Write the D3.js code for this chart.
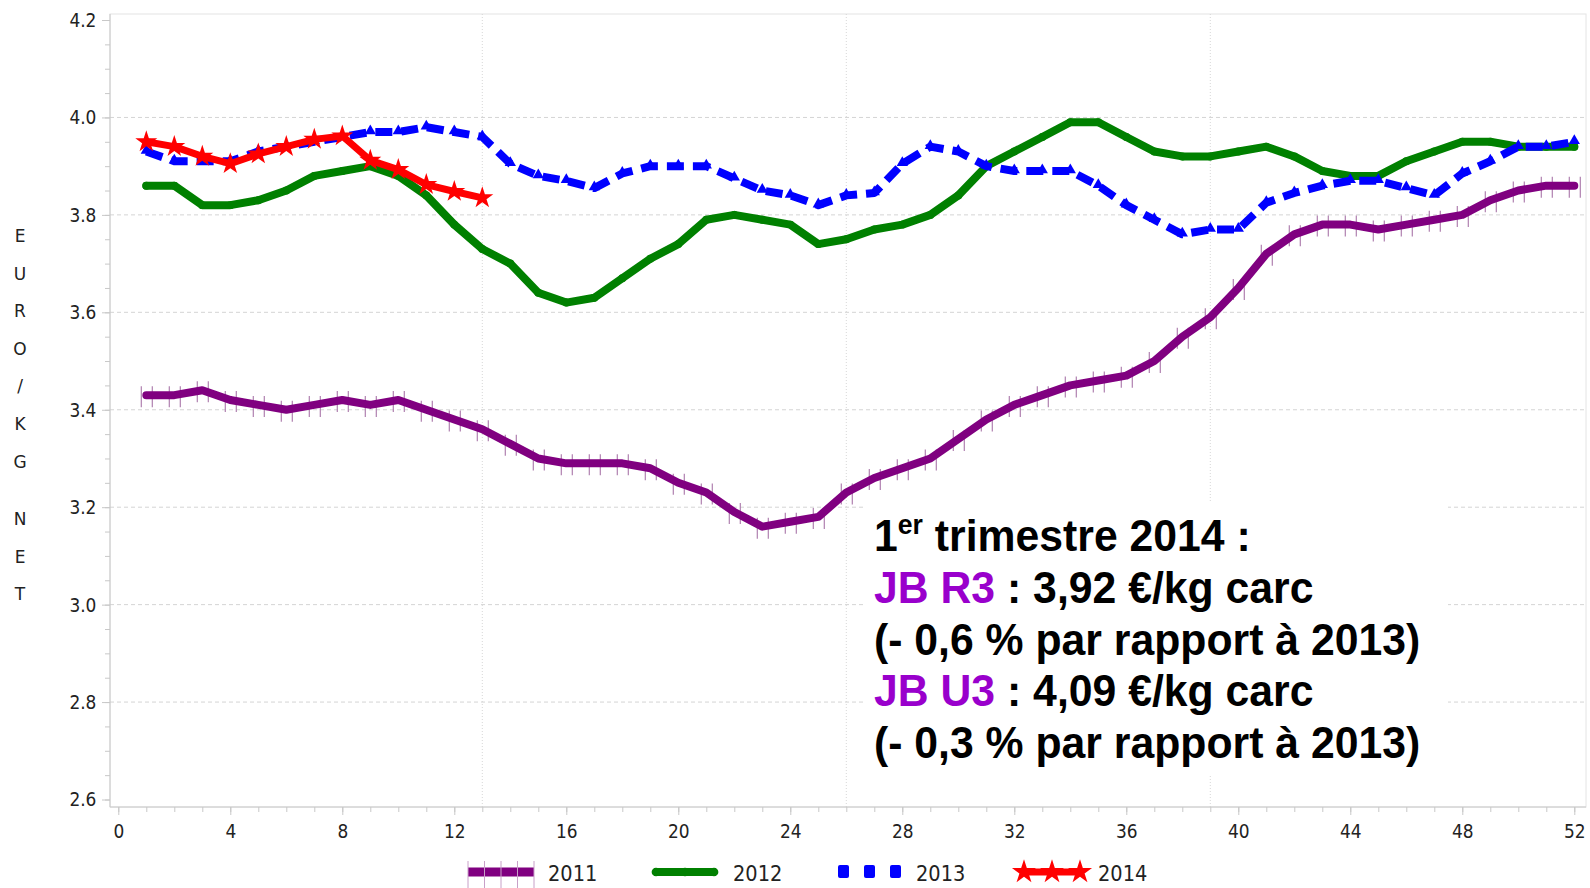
<!DOCTYPE html>
<html>
<head>
<meta charset="utf-8">
<script src="https://cdn.jsdelivr.net/npm/d3@7"></script>
<style>
  html, body { margin: 0; padding: 0; background: #fff; }
  svg { display: block; }
</style>
</head>
<body>
<svg id="chart" width="1590" height="888"></svg>
<script>
// ---------- DATA ----------
const weeks = d3.range(1, 53);
const weeks2014 = d3.range(1, 14);
const years = ["2011", "2012", "2013", "2014"];
const values2011 = [3.43,3.43,3.44,3.42,3.41,3.40,3.41,3.42,3.41,3.42,
                    3.40,3.38,3.36,3.33,3.30,3.29,3.29,3.29,3.28,3.25,
                    3.23,3.19,3.16,3.17,3.18,3.23,3.26,3.28,3.30,3.34,
                    3.38,3.41,3.43,3.45,3.46,3.47,3.50,3.55,3.59,3.65,
                    3.72,3.76,3.78,3.78,3.77,3.78,3.79,3.80,3.83,3.85,3.86,3.86];
const values2012 = [3.86,3.86,3.82,3.82,3.83,3.85,3.88,3.89,3.90,3.88,
                    3.84,3.78,3.73,3.70,3.64,3.62,3.63,3.67,3.71,3.74,
                    3.79,3.80,3.79,3.78,3.74,3.75,3.77,3.78,3.80,3.84,
                    3.90,3.93,3.96,3.99,3.99,3.96,3.93,3.92,3.92,3.93,
                    3.94,3.92,3.89,3.88,3.88,3.91,3.93,3.95,3.95,3.94,3.94,3.94];
const values2013 = [3.93,3.91,3.91,3.91,3.93,3.94,3.95,3.96,3.97,3.97,
                    3.98,3.97,3.96,3.905,3.88,3.87,3.855,3.885,3.90,3.90,
                    3.90,3.875,3.85,3.84,3.82,3.84,3.845,3.905,3.94,3.93,
                    3.90,3.89,3.89,3.89,3.86,3.82,3.79,3.76,3.77,3.77,
                    3.825,3.845,3.86,3.87,3.87,3.855,3.84,3.885,3.91,3.94,3.94,3.95];
const values2014 = [3.95,3.94,3.92,3.905,3.925,3.94,3.955,3.962,3.912,3.893,3.862,3.848,3.835];
const xTickValues = [0,4,8,12,16,20,24,28,32,36,40,44,48,52];
const yTickValues = [2.6,2.8,3.0,3.2,3.4,3.6,3.8,4.0,4.2];
const quarterWeeks = [13, 26, 39];
const yAxisLetters = ["E","U","R","O","/","K","G","N","E","T"];
const noteLines = [
  [{t:"1", c:"#000"}, {t:"er", c:"#000", sup:true}, {t:" trimestre 2014 :", c:"#000", down:true}],
  [{t:"JB R3", c:"#9900CC"}, {t:" : 3,92 €/kg carc", c:"#000"}],
  [{t:"(- 0,6 % par rapport à 2013)", c:"#000"}],
  [{t:"JB U3", c:"#9900CC"}, {t:" : 4,09 €/kg carc", c:"#000"}],
  [{t:"(- 0,3 % par rapport à 2013)", c:"#000"}]
];

// ---------- LAYOUT ----------
const svg = d3.select("#chart");
const frame = {left: 110, right: 1586, top: 14, bottom: 807};
const x = d3.scaleLinear().domain([0, 52]).range([118.3, 1574.3]);
const y = d3.scaleLinear().domain([2.6, 4.2]).range([799.5, 20]);
const gridColor = "#d4d4d4";
const axisColor = "#c8c8c8";
const tickFont = "'DejaVu Sans', sans-serif";

// frame
svg.append("rect").attr("x", frame.left).attr("y", frame.top)
  .attr("width", frame.right - frame.left).attr("height", frame.bottom - frame.top)
  .attr("fill", "none").attr("stroke", "#e4e4e4").attr("stroke-width", 1);

// horizontal grid
svg.append("g").selectAll("line").data(yTickValues.filter(v => v > 2.7 && v < 4.1)).join("line")
  .attr("x1", frame.left).attr("x2", frame.right)
  .attr("y1", d => y(d)).attr("y2", d => y(d))
  .attr("stroke", gridColor).attr("stroke-width", 1).attr("stroke-dasharray", "4,3");

// vertical quarter lines
svg.append("g").selectAll("line").data(quarterWeeks).join("line")
  .attr("x1", d => x(d)).attr("x2", d => x(d))
  .attr("y1", frame.top).attr("y2", frame.bottom)
  .attr("stroke", "#d8d8d8").attr("stroke-width", 1).attr("stroke-dasharray", "1,2");

// axes
const yMinor = d3.range(2.6, 4.2001, 0.05);
const gyMinor = svg.append("g").attr("transform", `translate(${frame.left},0)`)
  .call(d3.axisLeft(y).tickValues(yMinor).tickSize(5).tickFormat(""));
gyMinor.select(".domain").remove();
gyMinor.selectAll("line").attr("stroke", axisColor);

const gy = svg.append("g").attr("transform", `translate(${frame.left},0)`)
  .call(d3.axisLeft(y).tickValues(yTickValues).tickSize(8).tickPadding(8).tickFormat(d3.format(".1f")));
gy.select(".domain").attr("stroke", axisColor).attr("d", `M0,${frame.top}V${frame.bottom}`);
gy.selectAll("line").attr("stroke", axisColor);
gy.selectAll("text").attr("font-family", tickFont).attr("font-size", 20).attr("fill", "#222")
  .attr("transform", "scale(0.85,1)");

const gxMinor = svg.append("g").attr("transform", `translate(0,${frame.bottom})`)
  .call(d3.axisBottom(x).tickValues(d3.range(0, 53)).tickSize(5).tickFormat(""));
gxMinor.select(".domain").remove();
gxMinor.selectAll("line").attr("stroke", axisColor);

const gx = svg.append("g").attr("transform", `translate(0,${frame.bottom})`)
  .call(d3.axisBottom(x).tickValues(xTickValues).tickSize(8).tickPadding(9).tickFormat(d3.format("d")));
gx.select(".domain").attr("stroke", axisColor).attr("d", `M${frame.left},0H${frame.right}`);
gx.selectAll("line").attr("stroke", axisColor);
gx.selectAll("text").attr("font-family", tickFont).attr("font-size", 20).attr("fill", "#222")
  .attr("transform", "scale(0.85,1)");

// y axis title: stacked letters
const letterY = [242, 280, 317, 355, 392, 430, 468, 525, 563, 600];
svg.append("g").selectAll("text").data(yAxisLetters).join("text")
  .attr("x", 20).attr("y", (d, i) => letterY[i])
  .attr("text-anchor", "middle")
  .attr("font-family", tickFont).attr("font-size", 17).attr("fill", "#222")
  .text(d => d);

// note box background (drawn above grid, below lines)
svg.append("rect").attr("x", 866).attr("y", 502).attr("width", 582).attr("height", 272)
  .attr("fill", "#fff");

// ---------- SERIES ----------
const line = d3.line().x(d => x(d[0])).y(d => y(d[1]));
const s2011 = weeks.map((w, i) => [w, values2011[i]]);
const s2012 = weeks.map((w, i) => [w, values2012[i]]);
const s2013 = weeks.map((w, i) => [w, values2013[i]]);
const s2014 = weeks2014.map((w, i) => [w, values2014[i]]);

// 2011 purple
const g11 = svg.append("g");
g11.append("g").selectAll("path").data(s2011).join("path")
  .attr("d", d => `M${x(d[0]) - 5},${y(d[1]) - 9}v21M${x(d[0]) + 6},${y(d[1]) - 9}v21`)
  .attr("stroke", "#b080b0").attr("stroke-width", 1.2);
g11.append("path").datum(s2011).attr("d", line)
  .attr("fill", "none").attr("stroke", "#800080").attr("stroke-width", 8)
  .attr("stroke-linejoin", "round").attr("stroke-linecap", "round");

// 2012 green
const g12 = svg.append("g");
g12.append("path").datum(s2012).attr("d", line)
  .attr("fill", "none").attr("stroke", "#008000").attr("stroke-width", 8)
  .attr("stroke-linejoin", "round").attr("stroke-linecap", "round");
g12.selectAll("path.m").data(s2012).join("path").attr("class", "m")
  .attr("transform", d => `translate(${x(d[0])},${y(d[1])})`)
  .attr("d", d3.symbol(d3.symbolCircle, 50)).attr("fill", "#008000");

// 2013 blue dashed
const g13 = svg.append("g");
g13.append("path").datum(s2013).attr("d", line)
  .attr("fill", "none").attr("stroke", "#0000FF").attr("stroke-width", 8)
  .attr("stroke-dasharray", "17,9").attr("stroke-linejoin", "round");
g13.selectAll("path.m").data(s2013).join("path").attr("class", "m")
  .attr("transform", d => `translate(${x(d[0])},${y(d[1]) - 1})`)
  .attr("d", d3.symbol(d3.symbolTriangle, 55)).attr("fill", "#0000FF");

// 2014 red stars
const g14 = svg.append("g");
g14.append("path").datum(s2014).attr("d", line)
  .attr("fill", "none").attr("stroke", "#FF0000").attr("stroke-width", 7)
  .attr("stroke-linejoin", "round").attr("stroke-linecap", "round");
g14.selectAll("path.m").data(s2014).join("path").attr("class", "m")
  .attr("transform", d => `translate(${x(d[0])},${y(d[1])})`)
  .attr("d", d3.symbol(d3.symbolStar, 150)).attr("fill", "#FF0000");

// ---------- NOTE TEXT ----------
const noteG = svg.append("g").attr("transform", "translate(874,0) scale(0.95,1)");
noteLines.forEach((parts, i) => {
  const t = noteG.append("text").attr("x", 0).attr("y", 551 + i * 51.8)
    .attr("font-family", "'Liberation Sans', Arial, sans-serif")
    .attr("font-weight", "bold").attr("font-size", 45);
  parts.forEach(p => {
    const ts = t.append("tspan").attr("fill", p.c).text(p.t);
    if (p.sup) ts.attr("font-size", 28).attr("dy", -17);
    if (p.down) ts.attr("dy", 17);
  });
});

// ---------- LEGEND ----------
const legY = 873;
const leg = svg.append("g");
// 2011
leg.append("line").attr("x1", 468).attr("x2", 534).attr("y1", legY - 1).attr("y2", legY - 1)
  .attr("stroke", "#800080").attr("stroke-width", 9);
leg.append("g").selectAll("line").data(d3.range(5)).join("line")
  .attr("x1", d => 468 + d * 16.5).attr("x2", d => 468 + d * 16.5)
  .attr("y1", legY - 12).attr("y2", legY + 16)
  .attr("stroke", "#c8a0c8").attr("stroke-width", 1);
// 2012
leg.append("line").attr("x1", 654).attr("x2", 716).attr("y1", legY - 1).attr("y2", legY - 1)
  .attr("stroke", "#008000").attr("stroke-width", 8);
leg.append("g").selectAll("path").data([656, 685, 714]).join("path")
  .attr("transform", d => `translate(${d},${legY - 1})`)
  .attr("d", d3.symbol(d3.symbolCircle, 60)).attr("fill", "#008000");
// 2013
leg.append("g").selectAll("rect").data([838, 864, 890]).join("rect")
  .attr("x", d => d).attr("y", legY - 8).attr("width", 11).attr("height", 13).attr("rx", 2)
  .attr("fill", "#0000FF");
// 2014
leg.append("line").attr("x1", 1022).attr("x2", 1082).attr("y1", legY - 1).attr("y2", legY - 1)
  .attr("stroke", "#FF0000").attr("stroke-width", 7);
leg.append("g").selectAll("path").data([1024, 1052, 1080]).join("path")
  .attr("transform", d => `translate(${d},${legY - 1})`)
  .attr("d", d3.symbol(d3.symbolStar, 180)).attr("fill", "#FF0000");
// labels
leg.append("g").selectAll("text").data(years).join("text")
  .attr("transform", (d, i) => `translate(${[548, 733, 916, 1098][i]},${legY + 8}) scale(0.88,1)`)
  .attr("font-family", tickFont).attr("font-size", 22).attr("fill", "#222")
  .text(d => d);
</script>
</body>
</html>
